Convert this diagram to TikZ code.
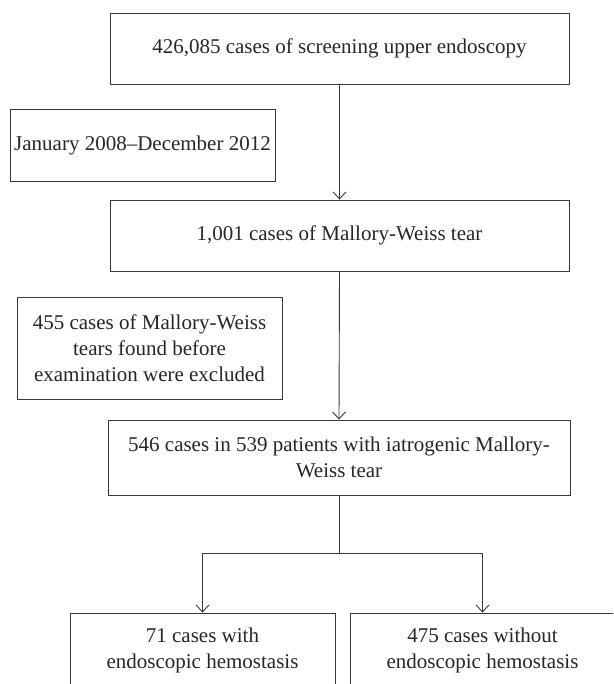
\documentclass[tikz,border=0pt]{standalone}
\usepackage{fontspec}
\setmainfont{Liberation Serif}
\usetikzlibrary{arrows.meta}
\begin{document}
\begin{tikzpicture}[x=1pt,y=-1pt,
  box/.style={draw=black!78, line width=0.9pt, inner sep=0pt, align=center, text=black!85, font=\fontsize{21}{26}\selectfont},
  arr/.style={draw=black!78, line width=0.9pt, -{Straight Barb[length=7pt,width=13pt]}},
  ln/.style={draw=black!78, line width=0.9pt}]
\useasboundingbox (0,0) rectangle (613,684);
\clip (0,0) rectangle (613,684);
\node[box, minimum width=459pt, minimum height=71pt] (n1) at (339.5,48.5) {426,085 cases of screening upper endoscopy};
\node[box, minimum width=265pt, minimum height=72pt] (n2) at (142.5,145) {January 2008–December 2012};
\node[box, minimum width=459pt, minimum height=71pt] (n3) at (339.5,235.5) {1,001 cases of Mallory-Weiss tear};
\node[box, minimum width=265pt, minimum height=102pt] (n4) at (149.5,348) {455 cases of Mallory-Weiss\\tears found before\\examination were excluded};
\node[box, minimum width=462pt, minimum height=75pt] (n5) at (339,457.5) {546 cases in 539 patients with iatrogenic Mallory-\\Weiss tear};
\node[box, minimum width=265pt, minimum height=75pt] (n6) at (202.5,650.5) {71 cases with\\endoscopic hemostasis};
\node[box, minimum width=265pt, minimum height=75pt] (n7) at (482.5,650.5) {475 cases without\\endoscopic hemostasis};
\coordinate (b) at (339,553);
\draw[arr] (n1.south) -- (n3.north);
\draw[arr] (n3.south) -- (n5.north);
\draw[ln] (n5.south) -- (b);
\draw[arr] (b) -| (n6.north);
\draw[arr] (b) -| (n7.north);
\end{tikzpicture}
\end{document}
